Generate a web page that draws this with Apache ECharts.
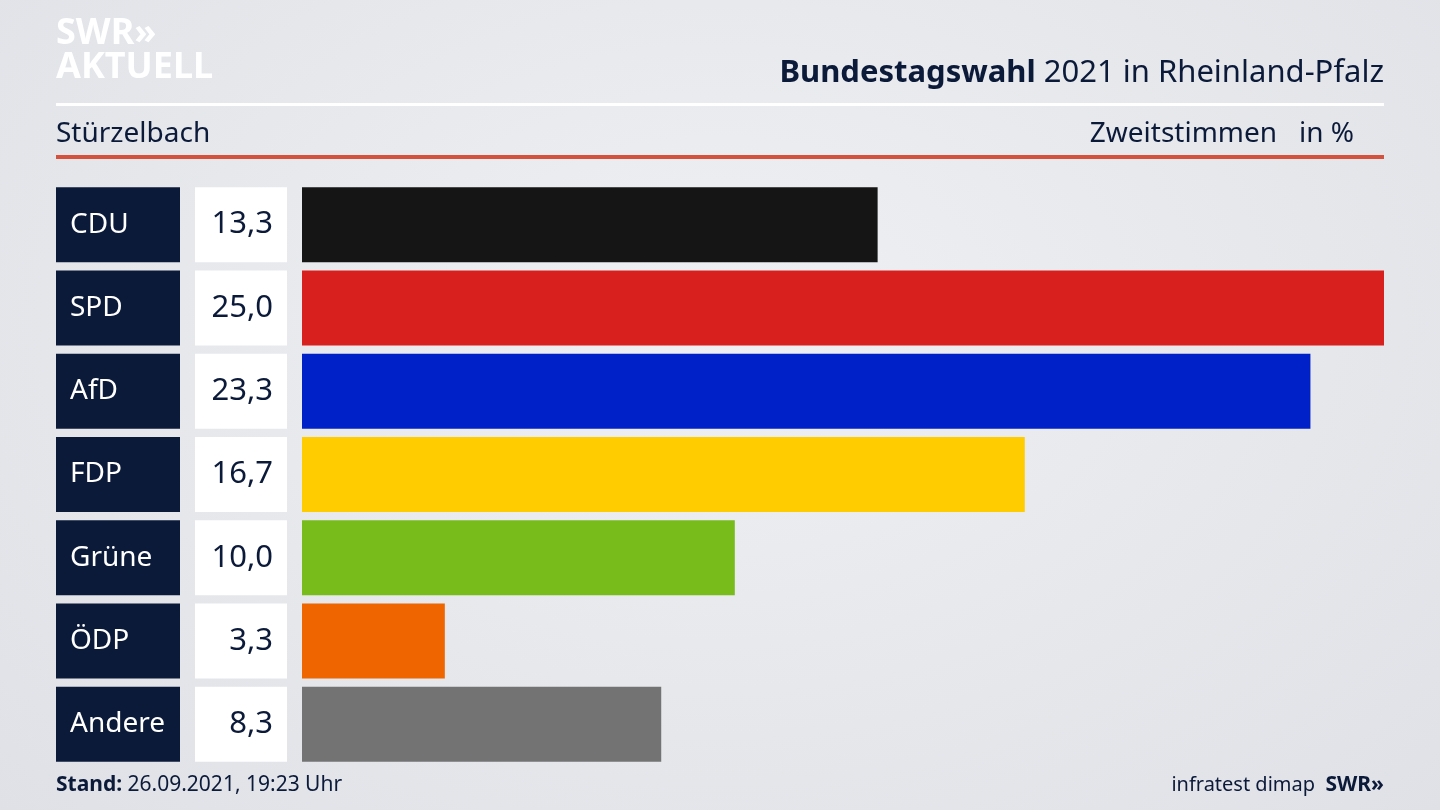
<!DOCTYPE html>
<html><head><meta charset="utf-8">
<script src="https://cdn.jsdelivr.net/npm/echarts@6/dist/echarts.min.js"></script>
<style>html,body{margin:0;padding:0}#main{width:1440px;height:810px;background:radial-gradient(ellipse at 50% 40%,#eef0f3 0%,#dfe1e6 100%)}</style>
</head><body><div id="main"></div>
<script>
var parties = ['CDU', 'SPD', 'AfD', 'FDP', 'Grüne', 'ÖDP', 'Andere'];
var values = [13.3, 25.0, 23.3, 16.7, 10.0, 3.3, 8.3];
var colors = ['#151515', '#d8201f', '#0021c8', '#ffcc00', '#78bc1b', '#ef6500', '#737373'];
var valueLabels = ['13,3', '25,0', '23,3', '16,7', '10,0', '3,3', '8,3'];

var navy = '#0c1a3a';
var font = 'Noto Sans';
var myChart = echarts.init(document.getElementById('main'));

var option = {
    textStyle: {fontFamily: font},
    grid: {left: 302, right: 56, top: 183, bottom: 44},
    xAxis: {type: 'value', min: 0, max: 25, show: false},
    yAxis: [
        {
            type: 'category', data: parties, inverse: true,
            axisLine: {show: false}, axisTick: {show: false},
            axisLabel: {
                margin: 246, align: 'left', color: '#fff', fontSize: 28, fontFamily: font,
                backgroundColor: navy, width: 110, height: 75, lineHeight: 78, padding: [0, 0, 0, 14]
            }
        },
        {
            type: 'category', data: valueLabels, inverse: true, position: 'left',
            axisLine: {show: false}, axisTick: {show: false},
            axisLabel: {
                margin: 15, align: 'right', color: navy, fontSize: 31, fontFamily: font,
                backgroundColor: '#fff', width: 78, height: 75, lineHeight: 78, padding: [0, 14, 0, 0]
            }
        }
    ],
    series: [{
        type: 'bar', barWidth: 75, silent: true,
        data: values.map(function (v, i) { return {value: v, itemStyle: {color: colors[i]}}; })
    }],
    graphic: [
        {type: 'text', left: 56, top: 16, style: {text: 'SWR»', fill: '#fff', font: 'bold 36px ' + font}},
        {type: 'text', left: 56, top: 50, style: {text: 'AKTUELL', fill: '#fff', font: 'bold 36px ' + font}},
        {type: 'text', right: 56, top: 58, style: {
            text: '{b|Bundestagswahl} 2021 in Rheinland-Pfalz', fill: navy, font: '31px ' + font,
            rich: {b: {fontWeight: 'bold', fontSize: 31, fill: navy, fontFamily: font}}
        }},
        {type: 'rect', shape: {x: 56, y: 103, width: 1328, height: 3}, style: {fill: '#fff'}},
        {type: 'text', left: 56, top: 120, style: {text: 'Stürzelbach', fill: navy, font: '28px ' + font}},
        {type: 'text', right: 86, top: 120, style: {text: 'Zweitstimmen   in %', fill: navy, font: '28px ' + font}},
        {type: 'rect', shape: {x: 56, y: 155, width: 1328, height: 4}, style: {fill: '#d4513e'}},
        {type: 'text', left: 56, top: 775, style: {
            text: '{b|Stand:} 26.09.2021, 19:23 Uhr', fill: navy, font: '21px ' + font,
            rich: {b: {fontWeight: 'bold', fontSize: 21, fill: navy, fontFamily: font}}
        }},
        {type: 'text', right: 56, top: 775, style: {
            text: 'infratest dimap  {b|SWR»}', fill: navy, font: '20px ' + font,
            rich: {b: {fontWeight: 'bold', fontSize: 21, fill: navy, fontFamily: font}}
        }}
    ]
};
myChart.setOption(option);
</script></body></html>
